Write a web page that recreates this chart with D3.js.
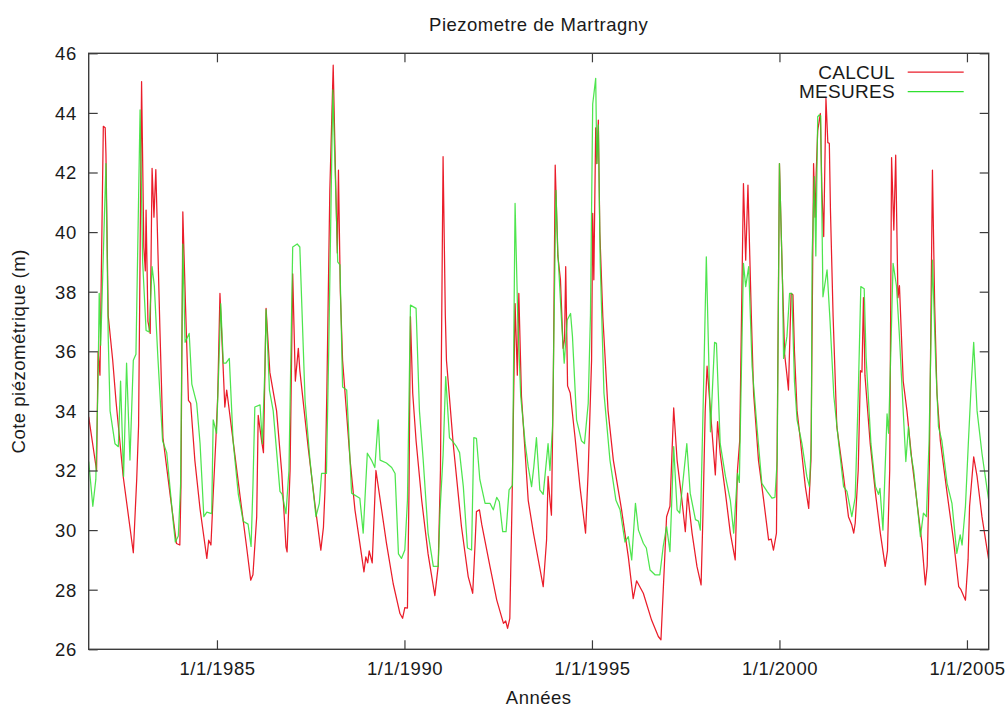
<!DOCTYPE html>
<html>
<head>
<meta charset="utf-8">
<script src="https://cdn.jsdelivr.net/npm/d3@7"></script>
<style>
  html, body { margin: 0; padding: 0; background: #fff; }
  svg { display: block; }
  text { font-family: "Liberation Sans", Arial, sans-serif; fill: #1a1a1a; }
</style>
</head>
<body>
<svg id="chart" width="1007" height="707"></svg>
<script>
// ---- Data (decimal year, piezometric level in m) ----
const chartTitle = "Piezometre de Martragny";
const xLabel = "Années";
const yLabel = "Cote piézométrique (m)";
const seriesNames = ["CALCUL", "MESURES"];

const calcul = [
[1981.58,33.8],[1981.79,32.0],[1981.83,36.0],[1981.88,35.2],[1981.97,43.55],[1982.02,43.5],[1982.04,42.6],
[1982.10,37.2],[1982.22,35.7],[1982.31,34.3],[1982.50,31.8],[1982.77,29.24],[1982.86,31.7],[1982.91,33.5],
[1982.94,37.7],[1982.99,45.05],[1983.05,39.5],[1983.09,38.7],[1983.11,40.74],[1983.16,37.0],[1983.22,36.6],
[1983.27,42.14],[1983.32,40.5],[1983.37,42.1],[1983.48,36.7],[1983.56,33.1],[1983.75,31.2],[1983.92,29.55],
[1984.01,29.5],[1984.04,31.45],[1984.09,40.68],[1984.16,37.6],[1984.24,34.35],[1984.30,34.25],[1984.41,32.35],
[1984.55,30.7],[1984.73,29.05],[1984.78,29.66],[1984.84,29.5],[1984.90,31.2],[1984.97,33.0],[1985.02,34.5],
[1985.08,37.94],[1985.15,35.9],[1985.21,34.13],[1985.26,34.7],[1985.43,33.0],[1985.61,31.2],[1985.79,29.44],
[1985.90,28.32],[1985.96,28.5],[1986.06,30.45],[1986.10,33.85],[1986.19,33.0],[1986.24,32.6],[1986.31,37.44],
[1986.41,35.3],[1986.59,34.0],[1986.73,31.9],[1986.84,29.44],[1986.87,29.27],[1986.95,32.0],[1987.02,38.6],
[1987.09,35.0],[1987.17,36.1],[1987.21,35.36],[1987.43,32.8],[1987.61,30.9],[1987.77,29.33],[1987.84,30.1],
[1987.88,31.3],[1987.93,34.6],[1988.01,41.41],[1988.10,45.6],[1988.16,42.0],[1988.21,39.3],[1988.24,42.08],
[1988.29,38.0],[1988.35,35.7],[1988.55,32.35],[1988.68,30.68],[1988.81,29.56],[1988.92,28.6],[1988.97,29.1],
[1989.02,28.9],[1989.06,29.3],[1989.14,28.9],[1989.24,32.0],[1989.52,29.56],[1989.70,28.2],[1989.88,27.2],
[1989.95,27.04],[1990.01,27.4],[1990.08,27.38],[1990.12,31.2],[1990.16,37.16],[1990.22,34.6],[1990.31,33.0],
[1990.46,31.0],[1990.63,29.2],[1990.81,27.8],[1990.90,28.8],[1990.96,32.0],[1991.03,42.53],[1991.09,37.2],
[1991.12,35.7],[1991.30,32.9],[1991.52,30.12],[1991.70,28.44],[1991.82,27.88],[1991.88,29.45],[1991.92,30.62],
[1992.00,30.68],[1992.06,30.2],[1992.28,28.78],[1992.46,27.66],[1992.64,26.87],[1992.70,26.95],[1992.75,26.7],
[1992.81,27.04],[1992.87,31.0],[1992.95,37.6],[1993.01,35.2],[1993.05,37.94],[1993.12,34.5],[1993.30,31.0],
[1993.44,29.9],[1993.57,29.0],[1993.70,28.1],[1993.79,29.67],[1993.83,31.8],[1993.88,31.0],[1993.92,30.5],
[1993.97,35.0],[1994.02,42.25],[1994.09,39.2],[1994.16,38.4],[1994.23,36.1],[1994.27,36.4],[1994.30,38.84],
[1994.35,34.84],[1994.42,34.6],[1994.55,33.1],[1994.68,31.46],[1994.83,29.9],[1994.90,32.0],[1994.99,35.7],
[1995.02,40.63],[1995.05,38.4],[1995.10,43.5],[1995.13,42.3],[1995.17,43.76],[1995.21,40.0],[1995.29,37.16],
[1995.43,34.0],[1995.57,32.35],[1995.79,30.68],[1995.97,29.1],[1996.10,27.7],[1996.19,28.3],[1996.37,27.88],
[1996.59,26.98],[1996.77,26.43],[1996.84,26.32],[1996.92,28.5],[1996.99,30.45],[1997.08,30.8],[1997.18,34.1],
[1997.27,32.35],[1997.40,31.0],[1997.49,29.95],[1997.55,31.24],[1997.67,29.9],[1997.80,28.78],[1997.91,28.16],
[1997.96,30.5],[1998.02,34.0],[1998.07,35.5],[1998.16,34.0],[1998.29,31.85],[1998.35,33.64],[1998.42,32.58],
[1998.56,31.24],[1998.69,29.9],[1998.82,29.0],[1998.88,32.0],[1998.94,33.0],[1999.04,41.63],[1999.10,39.06],
[1999.16,41.58],[1999.25,37.2],[1999.31,34.6],[1999.44,32.35],[1999.58,31.0],[1999.71,29.67],[1999.78,29.7],
[1999.84,29.33],[1999.92,29.9],[2000.00,42.3],[2000.08,38.4],[2000.14,35.87],[2000.20,35.2],[2000.24,34.7],
[2000.31,37.94],[2000.36,37.9],[2000.40,36.0],[2000.47,34.0],[2000.56,33.0],[2000.69,31.46],[2000.78,30.73],
[2000.84,32.35],[2000.91,42.3],[2000.95,40.5],[2000.98,42.0],[2001.02,43.4],[2001.09,43.98],[2001.13,41.5],
[2001.18,39.85],[2001.24,44.49],[2001.29,43.0],[2001.33,42.98],[2001.36,40.74],[2001.43,37.2],[2001.53,33.47],
[2001.71,31.8],[2001.84,30.45],[2001.93,30.17],[2001.98,29.9],[2002.02,30.23],[2002.10,32.0],[2002.16,35.35],
[2002.20,35.3],[2002.24,37.8],[2002.28,35.2],[2002.42,32.9],[2002.56,31.24],[2002.69,29.9],[2002.82,28.78],
[2002.88,29.3],[2002.94,32.0],[2002.99,42.5],[2003.05,40.07],[2003.10,42.58],[2003.16,37.8],[2003.20,38.2],
[2003.30,35.0],[2003.40,34.0],[2003.53,32.35],[2003.67,30.9],[2003.80,29.56],[2003.89,28.16],[2003.94,28.8],
[2004.00,32.35],[2004.08,42.08],[2004.14,37.5],[2004.20,34.6],[2004.29,33.0],[2004.47,31.24],[2004.64,29.67],
[2004.78,28.1],[2004.84,28.0],[2004.96,27.65],[2005.03,29.0],[2005.07,30.8],[2005.18,32.46],[2005.27,31.8],
[2005.40,30.45],[2005.58,29.0]
];

const mesures = [
[1981.58,32.3],[1981.69,30.8],[1981.77,31.7],[1981.83,35.0],[1981.86,37.94],[1981.90,36.2],[1982.04,42.3],
[1982.10,36.5],[1982.15,34.0],[1982.28,32.9],[1982.37,32.8],[1982.43,35.0],[1982.51,31.8],[1982.59,35.6],
[1982.68,32.35],[1982.77,35.7],[1982.84,35.9],[1982.95,44.1],[1983.02,38.97],[1983.11,36.7],[1983.19,36.65],
[1983.27,38.84],[1983.33,38.2],[1983.42,35.9],[1983.55,33.0],[1983.66,32.6],[1983.84,30.2],[1983.89,29.6],
[1983.97,29.8],[1984.03,31.5],[1984.09,39.6],[1984.15,36.3],[1984.26,36.6],[1984.33,34.9],[1984.46,34.25],
[1984.55,32.9],[1984.65,30.45],[1984.73,30.6],[1984.86,30.55],[1984.90,33.7],[1984.99,33.25],[1985.05,35.5],
[1985.10,37.6],[1985.17,35.6],[1985.24,35.6],[1985.33,35.76],[1985.43,33.0],[1985.57,31.2],[1985.70,30.3],
[1985.83,30.2],[1985.91,29.45],[1985.96,31.5],[1986.01,34.13],[1986.15,34.2],[1986.21,32.9],[1986.28,35.5],
[1986.31,37.4],[1986.40,34.7],[1986.50,34.0],[1986.68,31.3],[1986.74,31.2],[1986.84,30.55],[1986.92,32.0],
[1987.02,39.5],[1987.14,39.6],[1987.21,39.5],[1987.35,34.35],[1987.48,32.35],[1987.64,30.45],[1987.73,30.9],
[1987.79,31.9],[1987.92,31.9],[1987.98,36.0],[1988.09,44.77],[1988.16,41.7],[1988.22,39.0],[1988.28,38.9],
[1988.35,34.8],[1988.46,34.7],[1988.59,31.24],[1988.81,31.07],[1988.90,29.9],[1989.01,32.58],[1989.12,32.35],
[1989.21,32.1],[1989.30,33.7],[1989.35,32.35],[1989.52,32.25],[1989.66,32.1],[1989.75,31.9],[1989.84,29.2],
[1989.92,29.05],[1990.01,29.33],[1990.08,31.0],[1990.16,37.55],[1990.31,37.44],[1990.40,34.0],[1990.50,32.35],
[1990.63,29.9],[1990.77,28.78],[1990.90,28.78],[1990.95,30.68],[1991.03,32.5],[1991.10,35.15],[1991.20,33.1],
[1991.27,33.0],[1991.39,32.8],[1991.47,32.6],[1991.57,31.46],[1991.68,29.4],[1991.79,29.33],[1991.85,33.1],
[1991.92,33.08],[1992.01,31.7],[1992.15,30.9],[1992.28,30.9],[1992.37,30.68],[1992.46,31.1],[1992.53,30.95],
[1992.62,29.95],[1992.71,29.95],[1992.79,31.35],[1992.88,31.5],[1992.95,40.96],[1993.02,37.2],[1993.10,34.5],
[1993.22,32.9],[1993.30,32.13],[1993.39,31.46],[1993.45,32.13],[1993.52,33.1],[1993.61,31.35],[1993.70,31.2],
[1993.83,32.9],[1993.88,32.0],[1993.95,33.5],[1994.04,41.4],[1994.09,39.36],[1994.19,37.0],[1994.26,35.6],
[1994.34,37.05],[1994.43,37.27],[1994.48,36.5],[1994.59,33.7],[1994.72,33.0],[1994.80,32.9],[1994.90,34.25],
[1994.96,37.2],[1995.02,44.3],[1995.10,45.16],[1995.13,42.3],[1995.17,43.6],[1995.22,39.0],[1995.32,34.6],
[1995.48,32.35],[1995.64,31.0],[1995.75,30.68],[1995.88,29.6],[1995.97,29.78],[1996.06,29.0],[1996.16,30.9],
[1996.24,30.0],[1996.37,29.56],[1996.45,29.4],[1996.55,28.66],[1996.68,28.5],[1996.81,28.5],[1996.90,29.45],
[1996.99,30.12],[1997.08,29.28],[1997.18,32.8],[1997.27,30.68],[1997.34,30.57],[1997.53,32.9],[1997.62,31.24],
[1997.76,30.35],[1997.84,30.3],[1997.89,30.0],[1997.98,35.0],[1998.05,39.17],[1998.16,33.3],[1998.27,36.3],
[1998.32,36.27],[1998.42,32.9],[1998.56,31.8],[1998.69,31.0],[1998.78,29.9],[1998.88,31.9],[1998.93,31.6],
[1998.98,35.0],[1999.04,38.95],[1999.10,38.17],[1999.18,38.84],[1999.27,35.5],[1999.40,33.47],[1999.53,31.57],
[1999.67,31.3],[1999.80,31.07],[1999.88,31.1],[1999.94,32.35],[2000.00,42.3],[2000.08,38.4],[2000.11,35.76],
[2000.20,36.5],[2000.27,37.94],[2000.33,37.94],[2000.40,35.0],[2000.47,33.7],[2000.60,32.9],[2000.73,31.8],
[2000.80,31.46],[2000.85,33.0],[2000.87,39.17],[2000.93,41.86],[2000.97,39.2],[2001.02,43.87],[2001.06,43.93],
[2001.10,43.9],[2001.16,37.83],[2001.27,38.73],[2001.35,37.0],[2001.45,34.5],[2001.58,32.9],[2001.71,31.46],
[2001.80,31.3],[2001.93,30.45],[2002.02,31.1],[2002.10,34.5],[2002.17,38.17],[2002.26,38.1],[2002.31,35.8],
[2002.44,32.9],[2002.56,31.46],[2002.64,31.2],[2002.68,31.4],[2002.76,30.0],[2002.87,33.9],[2002.91,33.25],
[2002.97,36.0],[2003.03,38.95],[2003.12,38.2],[2003.20,36.5],[2003.30,34.0],[2003.37,32.3],[2003.44,33.47],
[2003.50,32.6],[2003.58,32.0],[2003.76,29.78],[2003.84,30.57],[2003.92,30.45],[2003.99,33.0],[2004.08,39.06],
[2004.17,35.5],[2004.24,33.47],[2004.33,33.0],[2004.47,31.57],[2004.60,30.9],[2004.73,29.22],[2004.82,29.84],
[2004.87,29.5],[2004.96,30.8],[2005.04,33.0],[2005.11,34.8],[2005.18,36.3],[2005.27,34.0],[2005.40,32.58],
[2005.58,31.0]
];

const xDomain = [1981.58, 2005.58];
const yDomain = [26, 46];
const yTicks = [26, 28, 30, 32, 34, 36, 38, 40, 42, 44, 46];
const xTickYears = [1985, 1990, 1995, 2000, 2005];
const xTickLabels = ["1/1/1985", "1/1/1990", "1/1/1995", "1/1/2000", "1/1/2005"];

// ---- Layout ----
const W = 1007, H = 707;
const L = 88.7, R = 988.7, T = 53.3, B = 649.3;
const colors = { CALCUL: "#ea1d2a", MESURES: "#2fe02f" };
const axisColor = "#3c3c3c";
const tick = 9;

const svg = d3.select("#chart");
const x = d3.scaleLinear().domain(xDomain).range([L, R]);
const y = d3.scaleLinear().domain(yDomain).range([B, T]);

svg.append("defs").append("clipPath").attr("id", "plotclip")
  .append("rect").attr("x", L).attr("y", T).attr("width", R - L).attr("height", B - T);

// Data lines
const line = d3.line().x(d => x(d[0])).y(d => y(d[1]));
const plot = svg.append("g").attr("clip-path", "url(#plotclip)");
plot.append("path").datum(calcul)
  .attr("fill", "none").attr("stroke", colors.CALCUL).attr("stroke-width", 1.25)
  .attr("stroke-linejoin", "round").attr("d", line);
plot.append("path").datum(mesures)
  .attr("fill", "none").attr("stroke", colors.MESURES).attr("stroke-width", 1.25)
  .attr("stroke-opacity", 0.85)
  .attr("stroke-linejoin", "round").attr("d", line);

// Axes (ticks inside, mirrored)
const fmtX = d => xTickLabels[xTickYears.indexOf(d)];
function styleAxis(g) {
  g.select(".domain").remove();
  g.selectAll(".tick line").attr("stroke", axisColor).attr("stroke-width", 1.2);
  g.selectAll(".tick text")
    .style("font-family", '"Liberation Sans", Arial, sans-serif')
    .style("font-size", "18.5px").style("letter-spacing", "0.5px").attr("fill", "#1a1a1a");
}
svg.append("g").attr("transform", `translate(${L},0)`)
  .call(d3.axisLeft(y).tickValues(yTicks).tickSize(-tick).tickPadding(12).tickFormat(d3.format("d")))
  .call(styleAxis).call(g => g.selectAll(".tick text").attr("dy", "0.35em"));
svg.append("g").attr("transform", `translate(${R},0)`)
  .call(d3.axisRight(y).tickValues(yTicks).tickSize(-tick).tickFormat(""))
  .call(styleAxis);
svg.append("g").attr("transform", `translate(0,${B})`)
  .call(d3.axisBottom(x).tickValues(xTickYears).tickSize(-tick).tickPadding(12.6).tickFormat(fmtX))
  .call(styleAxis);
svg.append("g").attr("transform", `translate(0,${T})`)
  .call(d3.axisTop(x).tickValues(xTickYears).tickSize(-tick).tickFormat(""))
  .call(styleAxis);

// Border
svg.append("rect").attr("x", L).attr("y", T).attr("width", R - L).attr("height", B - T)
  .attr("fill", "none").attr("stroke", axisColor).attr("stroke-width", 1.4);

// Title and axis labels
const txtStyle = s => s.style("font-size", "18.5px").style("letter-spacing", "0.5px");
svg.append("text").attr("x", (L + R) / 2).attr("y", 31).attr("text-anchor", "middle")
  .text(chartTitle).call(txtStyle);
svg.append("text").attr("x", (L + R) / 2).attr("y", 704).attr("text-anchor", "middle")
  .text(xLabel).call(txtStyle);
svg.append("text").attr("transform", `translate(25,${(T + B) / 2}) rotate(-90)`)
  .attr("text-anchor", "middle").text(yLabel).call(txtStyle);

// Legend
const legend = svg.append("g");
seriesNames.forEach((name, i) => {
  const ly = 72 + i * 19.5;
  legend.append("text").attr("x", 895).attr("y", ly).attr("dy", "0.36em")
    .attr("text-anchor", "end").text(name)
    .style("font-size", "19px").style("letter-spacing", "0.3px");
  legend.append("line").attr("x1", 907.7).attr("x2", 963.7).attr("y1", ly).attr("y2", ly)
    .attr("stroke", colors[name]).attr("stroke-width", 1.25);
});
</script>
</body>
</html>
